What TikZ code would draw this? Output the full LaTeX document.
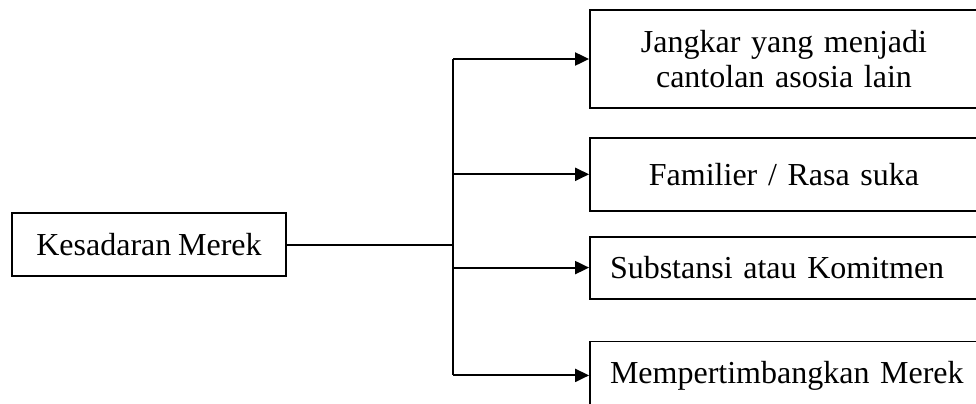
\documentclass[tikz,border=0pt]{standalone}
\usepackage{fontspec}
\setmainfont{Liberation Serif}[WordSpace=0.85]
\usetikzlibrary{arrows.meta, positioning}

\begin{document}
\begin{tikzpicture}[
    x=0.5pt, y=-0.5pt,
    node distance=15pt,
    box/.style={rectangle, draw=black, line width=0.9pt, text width=174pt, inner xsep=10pt, align=center, font=\fontsize{16}{17.5}\selectfont},
    leftbox/.style={box, text width=184pt, align=left},
    root/.style={rectangle, draw=black, line width=0.9pt, minimum width=137pt, minimum height=31.5pt, text centered, font=\fontsize{16}{17.5}\selectfont},
    line/.style={line width=1pt},
    arrow/.style={line width=1pt, -{Triangle[length=7pt, width=6.5pt]}}
]
\useasboundingbox (0,0) rectangle (976,403);
\node (kesadaran) [root] at (149,244.5) {Kesadaran Merek};
\node (jangkar) [box, minimum height=49pt] at (784,59) {Jangkar yang menjadi\\cantolan asosia lain};
\node (familier) [box, minimum height=36.5pt, below=14pt of jangkar] {Familier / Rasa suka};
\node (substansi) [leftbox, minimum height=31pt, below=12pt of familier.south west, anchor=north west] {Substansi atau Komitmen};
\node (pertimbangan) [leftbox, minimum height=34pt, below=20.5pt of substansi] {Mempertimbangkan Merek};
\coordinate (trunk) at (453,0);
\draw [line] (kesadaran.east) -- (kesadaran.east -| trunk);
\draw [line] (trunk |- jangkar.west) -- (trunk |- pertimbangan.west);
\draw [arrow] (trunk |- jangkar.west) -- (jangkar.west);
\draw [arrow] (trunk |- familier.west) -- (familier.west);
\draw [arrow] (trunk |- substansi.west) -- (substansi.west);
\draw [arrow] (trunk |- pertimbangan.west) -- (pertimbangan.west);
\end{tikzpicture}
\end{document}
